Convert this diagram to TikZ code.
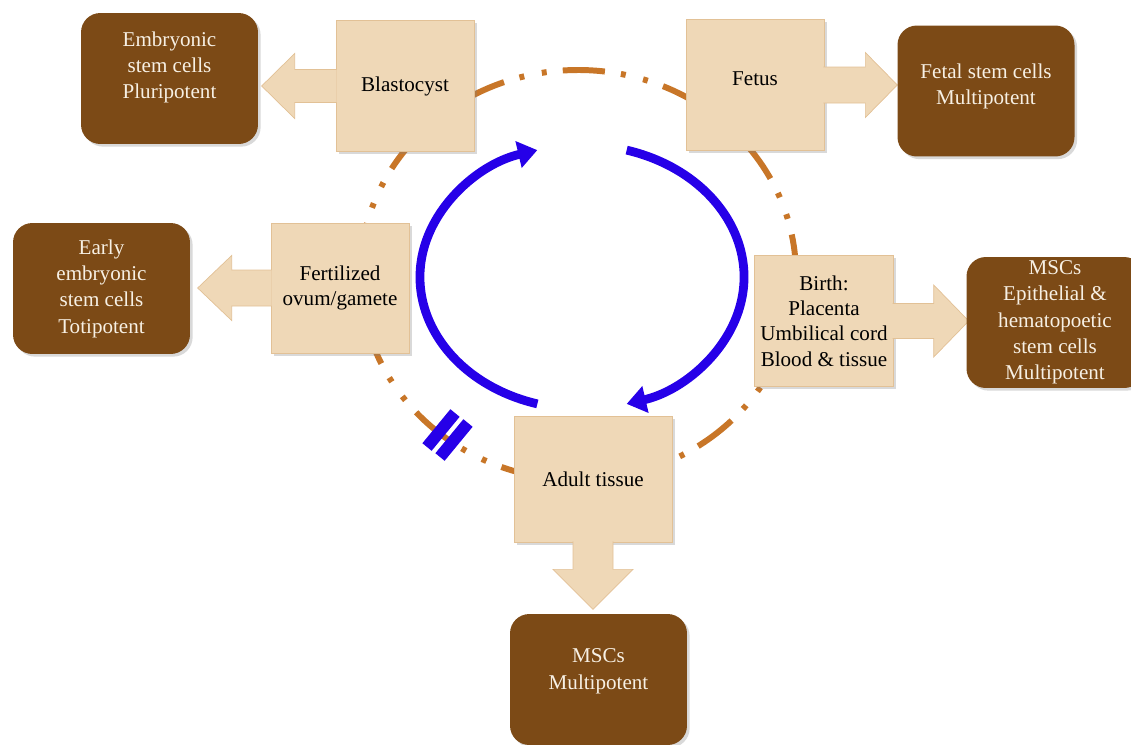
\documentclass[tikz,border=0pt]{standalone}
\usepackage{fontspec}
\setmainfont{Liberation Serif}
\usetikzlibrary{arrows.meta,shadows}

\definecolor{stagefill}{RGB}{239,216,183}
\definecolor{stageline}{RGB}{226,193,150}
\definecolor{cellbrown}{RGB}{124,74,22}
\definecolor{celltext}{RGB}{247,240,228}
\definecolor{lifeorange}{RGB}{200,118,40}
\definecolor{cycleblue}{RGB}{38,0,232}

\begin{document}
\begin{tikzpicture}[x=0.02cm, y=-0.02cm,
    font=\fontsize{12}{14.5}\selectfont,
    stagebox/.style={draw=stageline, fill=stagefill, thin, align=center,
        minimum width=2.76cm, minimum height=2.62cm,
        drop shadow={shadow xshift=1.5pt, shadow yshift=-1.5pt, opacity=0.3}},
    stemcell/.style={fill=cellbrown, text=celltext, rounded corners=11pt, align=center,
        font=\fontsize{12}{15}\selectfont,
        inner sep=2pt, minimum width=3.54cm, minimum height=2.62cm,
        drop shadow={shadow xshift=1.5pt, shadow yshift=-1.5pt, opacity=0.3}},
    blockarrow/.style={draw=stageline, fill=stagefill, thin},
    lifecycle/.style={lifeorange, line width=3.4pt,
        dash pattern=on 24pt off 9.2pt on 2.8pt off 10.2pt on 2.8pt off 9.2pt},
    cyclearc/.style={cycleblue, line width=5pt, -{Triangle[length=11pt, width=15pt]}},
    cutbar/.style={cycleblue, line width=6.8pt}]

    \path[use as bounding box] (0,0) rectangle (1131,744);
    \clip (0,0) rectangle (1131,744);

    % life cycle
    \draw[lifecycle] (578,275) ++(266:218 and 205)
        arc[start angle=266, end angle=626, x radius=218, y radius=205];

    % renewal
    \draw[cyclearc] (582,277) ++(106:162 and 132)
        arc[start angle=106, end angle=254, x radius=162, y radius=132];
    \draw[cyclearc] (582,277) ++(-74:162 and 132)
        arc[start angle=-74, end angle=74, x radius=162, y radius=132];

    % stages
    \node[stagebox] (blast) at (405,86) {Blastocyst};
    \node[stagebox, text depth=7pt] (fetus) at (755,85) {Fetus};
    \node[stagebox, minimum height=2.6cm] (fert) at (340,288) {Fertilized\\ovum/gamete};
    \node[stagebox] (birth) at (824,321) {Birth:\\Placenta\\Umbilical cord\\Blood \& tissue};
    \node[stagebox, minimum width=3.16cm, minimum height=2.52cm] (adult) at (593,479) {Adult tissue};

    % block arrows
    \filldraw[blockarrow] (blast.west) ++(1,-16.5) -- ++(-42,0) -- ++(0,-16) -- ++(-33,32.5)
        -- ++(33,32.5) -- ++(0,-16) -- ++(42,0);
    \filldraw[blockarrow] (fetus.east) ++(-1,-18) -- ++(42,0) -- ++(0,-14.5) -- ++(32,32.5)
        -- ++(-32,32.5) -- ++(0,-14.5) -- ++(-42,0);
    \filldraw[blockarrow] (fert.west) ++(1,-18) -- ++(-40,0) -- ++(0,-14.5) -- ++(-34,32.5)
        -- ++(34,32.5) -- ++(0,-14.5) -- ++(40,0);
    \filldraw[blockarrow] (birth.east) ++(-1,-17.5) -- ++(41,0) -- ++(0,-18.5) -- ++(35,36)
        -- ++(-35,36) -- ++(0,-18.5) -- ++(-41,0);
    \filldraw[blockarrow] (adult.south) ++(-20,-1) -- ++(0,28) -- ++(-20,0) -- ++(40,40)
        -- ++(40,-40) -- ++(-20,0) -- ++(0,-28);

    % stem cells
    \node[stemcell, text depth=15pt] (embryonic) at (169.5,78.5) {Embryonic\\stem cells\\Pluripotent};
    \node[stemcell, text depth=8pt] (fetal) at (986,91) {Fetal stem cells\\Multipotent};
    \node[stemcell] (early) at (101.5,288.5) {Early\\embryonic\\stem cells\\Totipotent};
    \node[stemcell] (epith) at (1055,322.5) {MSCs\\Epithelial \&\\hematopoetic\\stem cells\\Multipotent};
    \node[stemcell, text depth=12pt] (adultmsc) at (598.5,679.5) {MSCs\\Multipotent};

    % blocked
    \draw[cutbar] (427,447) -- (455,413);
    \draw[cutbar] (440,457) -- (468,423);

\end{tikzpicture}
\end{document}
